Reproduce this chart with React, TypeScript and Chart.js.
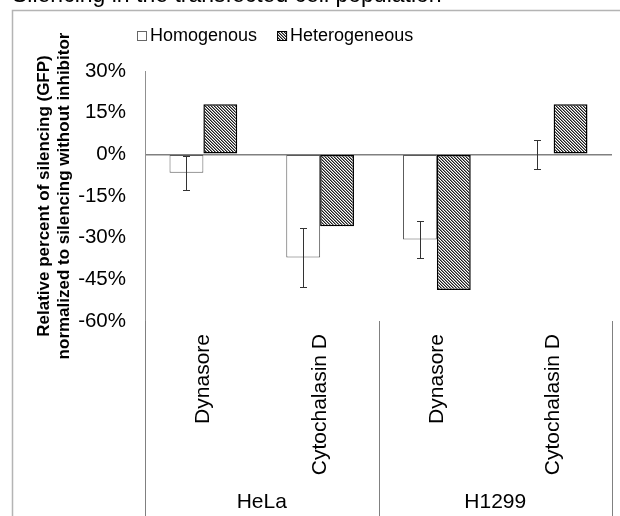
import React, { useEffect, useRef } from "react";
import { Chart, registerables } from "chart.js";

Chart.register(...registerables);

const categories = ["Dynasore", "Cytochalasin D", "Dynasore", "Cytochalasin D"];
const groupLabels = ["HeLa", "H1299"];
const groupSizes = [2, 2];
const seriesNames = ["Homogenous", "Heterogeneous"];
const homogenous = [-6.6, -37.1, -30.7, 0];
const homogenousErr = [6.1, 10.6, 6.7, 5.1];
const heterogeneous = [18, -25.9, -48.8, 18];
const yMin = -60;
const yMax = 30;
const yStep = 15;
const yTitle = ["Relative percent of silencing (GFP)", "normalized to silencing without inhibitor"];
const topTitle = "Silencing in the transfected cell population";

const FONT = "'Liberation Sans', Arial, Helvetica, sans-serif";

function makeHatch(): CanvasPattern | string {
  const n = 3;
  const c = document.createElement("canvas");
  c.width = n;
  c.height = n;
  const g = c.getContext("2d");
  if (!g) return "#777";
  g.fillStyle = "#ffffff";
  g.fillRect(0, 0, n, n);
  for (let i = 0; i < n; i++) {
    g.fillStyle = "#1e1e1e";
    g.fillRect(i, i, 1, 1);
    g.fillStyle = "#8a8a8a";
    g.fillRect((i + 1) % n, i, 1, 1);
  }
  return g.createPattern(c, "repeat") || "#777";
}

export default function App() {
  const ref = useRef<HTMLCanvasElement | null>(null);

  useEffect(() => {
    if (!ref.current) return;
    const hatch = makeHatch();

    const decor = {
      id: "decor",
      beforeDraw(chart: any) {
        const ctx = chart.ctx;
        ctx.save();
        ctx.fillStyle = "#ffffff";
        ctx.fillRect(0, 0, chart.width, chart.height);
        ctx.restore();
      },
      afterDatasetsDraw(chart: any) {
        const ctx = chart.ctx;
        const y = chart.scales.y;
        const meta = chart.getDatasetMeta(0);
        ctx.save();
        ctx.strokeStyle = "#333333";
        ctx.lineWidth = 1;
        homogenous.forEach((v, i) => {
          const bar = meta.data[i];
          if (!bar) return;
          const x = Math.round(bar.x) + 0.5;
          const y1 = Math.round(y.getPixelForValue(v + homogenousErr[i])) + 0.5;
          const y2 = Math.round(y.getPixelForValue(v - homogenousErr[i])) + 0.5;
          ctx.beginPath();
          ctx.moveTo(x, y1);
          ctx.lineTo(x, y2);
          ctx.moveTo(x - 3.5, y1);
          ctx.lineTo(x + 3.5, y1);
          ctx.moveTo(x - 3.5, y2);
          ctx.lineTo(x + 3.5, y2);
          ctx.stroke();
        });
        ctx.restore();
      },
      afterDraw(chart: any) {
        const ctx = chart.ctx;
        const area = chart.chartArea;
        const xs = chart.scales.x;
        ctx.save();

        // frame
        ctx.strokeStyle = "#b4b4b4";
        ctx.lineWidth = 1.5;
        ctx.beginPath();
        ctx.moveTo(12.5, chart.height);
        ctx.lineTo(12.5, 10.5);
        ctx.lineTo(chart.width, 10.5);
        ctx.stroke();

        // cut-off title
        ctx.fillStyle = "#000";
        ctx.font = `23px ${FONT}`;
        ctx.textAlign = "left";
        ctx.textBaseline = "alphabetic";
        ctx.fillText(topTitle, 12, 2);

        // legend
        ctx.font = `18px ${FONT}`;
        ctx.textBaseline = "middle";
        let lx = 137;
        const ly = 31;
        seriesNames.forEach((name, i) => {
          if (i === 0) {
            ctx.fillStyle = "#fff";
            ctx.fillRect(lx, ly, 10, 10);
            ctx.strokeStyle = "#666";
            ctx.lineWidth = 1;
            ctx.strokeRect(lx + 0.5, ly + 0.5, 9, 9);
          } else {
            ctx.fillStyle = hatch as any;
            ctx.fillRect(lx, ly, 10, 10);
            ctx.strokeStyle = "#000";
            ctx.lineWidth = 1;
            ctx.strokeRect(lx + 0.5, ly + 0.5, 9, 9);
          }
          ctx.fillStyle = "#000";
          ctx.fillText(name, lx + 13, ly + 5);
          lx += 13 + ctx.measureText(name).width + 20;
        });

        // y axis title
        ctx.font = `bold 17px ${FONT}`;
        ctx.textAlign = "center";
        ctx.textBaseline = "middle";
        const cy = (area.top + area.bottom) / 2;
        ctx.translate(44, cy);
        ctx.rotate(-Math.PI / 2);
        ctx.fillText(yTitle[0], 0, 0);
        ctx.fillText(yTitle[1], 0, 20);
        ctx.setTransform(1, 0, 0, 1, 0, 0);

        // group separators and labels
        const bounds: number[] = [area.left];
        let idx = 0;
        groupSizes.forEach((n) => {
          idx += n;
          if (idx < categories.length) {
            bounds.push((xs.getPixelForTick(idx - 1) + xs.getPixelForTick(idx)) / 2);
          } else {
            bounds.push(area.right);
          }
        });
        ctx.strokeStyle = "#808080";
        ctx.lineWidth = 1;
        bounds.forEach((bx) => {
          const px = Math.round(bx) + 0.5;
          ctx.beginPath();
          ctx.moveTo(px, area.bottom);
          ctx.lineTo(px, chart.height);
          ctx.stroke();
        });
        ctx.fillStyle = "#000";
        ctx.font = `21px ${FONT}`;
        ctx.textAlign = "center";
        ctx.textBaseline = "middle";
        groupLabels.forEach((g, i) => {
          ctx.fillText(g, (bounds[i] + bounds[i + 1]) / 2, 502);
        });
        ctx.restore();
      },
    };

    const chart = new Chart(ref.current, {
      type: "bar",
      data: {
        labels: categories,
        datasets: [
          {
            label: seriesNames[0],
            data: homogenous,
            backgroundColor: "#ffffff",
            borderColor: "#5a5a5a",
            borderWidth: 1,
            borderSkipped: false,
          },
          {
            label: seriesNames[1],
            data: heterogeneous,
            backgroundColor: hatch as any,
            borderColor: "#000000",
            borderWidth: 1.5,
            borderSkipped: false,
          },
        ],
      },
      options: {
        responsive: false,
        animation: false,
        events: [],
        layout: { padding: { top: 71, right: 8, left: 0, bottom: 0 } },
        datasets: { bar: { categoryPercentage: 0.58, barPercentage: 1.0 } },
        plugins: {
          legend: { display: false },
          tooltip: { enabled: false },
          title: { display: false },
        },
        scales: {
          x: {
            afterFit: (s: any) => {
              s.height = 195;
            },
            grid: { display: false },
            border: { display: false },
            ticks: {
              autoSkip: false,
              minRotation: 90,
              maxRotation: 90,
              padding: 5,
              color: "#000",
              font: { family: FONT, size: 21 },
            },
          },
          y: {
            min: yMin,
            max: yMax,
            afterFit: (s: any) => {
              s.width = 145;
            },
            grid: {
              drawTicks: false,
              color: (c: any) => (c.tick && c.tick.value === 0 ? "#808080" : "rgba(0,0,0,0)"),
              lineWidth: 1.5,
            },
            border: { display: true, color: "#909090", width: 1 },
            ticks: {
              stepSize: yStep,
              padding: 19,
              color: "#000",
              font: { family: FONT, size: 20.5 },
              callback: (v: any) => `${v}%`,
            },
          },
        },
      },
      plugins: [decor],
    });

    return () => chart.destroy();
  }, []);

  return (
    <div style={{ position: "absolute", left: 0, top: 0, width: 620, height: 516 }}>
      <canvas ref={ref} width={620} height={516} style={{ display: "block" }} />
    </div>
  );
}
